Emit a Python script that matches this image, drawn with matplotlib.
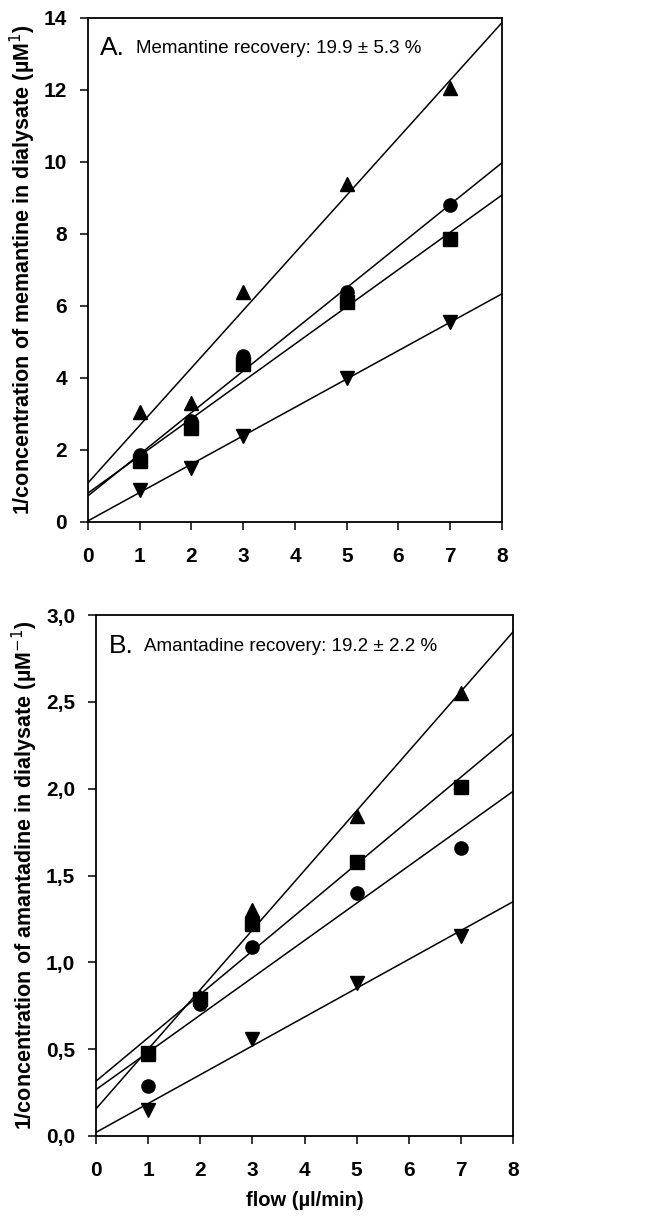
import numpy as np
import matplotlib
matplotlib.use("Agg")
import matplotlib.pyplot as plt

plt.rcParams['font.family'] = ['Liberation Sans', 'DejaVu Sans']

# flow rates (ul/min)
flow = [1, 2, 3, 5, 7]
flow_b_down = [1, 3, 5, 7]

# Panel A: memantine, 1/concentration (uM^-1)
mem_up = [3.05, 3.3, 6.4, 9.4, 12.05]
mem_circle = [1.85, 2.8, 4.6, 6.4, 8.8]
mem_square = [1.7, 2.6, 4.4, 6.1, 7.85]
mem_down = [0.9, 1.5, 2.4, 4.0, 5.55]

# Panel B: amantadine
ama_up = [0.47, 0.8, 1.3, 1.84, 2.55]
ama_square = [0.48, 0.79, 1.22, 1.58, 2.01]
ama_circle = [0.29, 0.76, 1.09, 1.40, 1.66]
ama_down = [0.15, 0.56, 0.88, 1.15]

xticks = [0, 1, 2, 3, 4, 5, 6, 7, 8]
yticks_a = [0, 2, 4, 6, 8, 10, 12, 14]
yticks_b = [0.0, 0.5, 1.0, 1.5, 2.0, 2.5, 3.0]
yticklabels_b = ['0,0', '0,5', '1,0', '1,5', '2,0', '2,5', '3,0']

fig = plt.figure(figsize=(6.54, 12.19), dpi=100)
axA = fig.add_axes([88/654, 1-522/1219, 414/654, 504/1219])
axB = fig.add_axes([96/654, 1-1136/1219, 417/654, 521/1219])

xfit = np.array([0, 8])


def panel(ax, series, ymax, yticks, ylabels, ylabel, letter, title):
    for xs, ys, m in series:
        ax.plot(xs, ys, linestyle='none', marker=m, color='black', ms=9.5, zorder=3)
        # least-squares line through each series
        k, b = np.polyfit(xs, ys, 1)
        ax.plot(xfit, k * xfit + b, color='black', lw=1.1)
    ax.set_xlim(0, 8)
    ax.set_ylim(0, ymax)
    ax.set_xticks(xticks)
    ax.set_yticks(yticks)
    ax.set_yticklabels(ylabels)
    ax.tick_params(direction='out', length=6, width=1.1, labelsize=15, top=False, right=False)
    ax.tick_params(axis='x', pad=12)
    ax.tick_params(axis='y', pad=9)
    for lab in ax.get_xticklabels() + ax.get_yticklabels():
        lab.set_fontweight('bold')
    for s in ax.spines.values():
        s.set_linewidth(1.3)
    ax.set_ylabel(ylabel, fontsize=15.5, fontweight='bold', labelpad=4)
    ax.text(0.03, 0.94, letter, transform=ax.transAxes, fontsize=19,
            va='center', ha='left')
    ax.text(0.115, 0.94, title, transform=ax.transAxes, fontsize=13.5,
            va='center', ha='left')


panel(axA,
      [(flow, mem_up, '^'), (flow, mem_circle, 'o'), (flow, mem_square, 's'), (flow, mem_down, 'v')],
      14, yticks_a, [str(v) for v in yticks_a],
      '1/concentration of memantine in dialysate (µM$^{1}$)',
      'A.', 'Memantine recovery: 19.9 ± 5.3 %')

panel(axB,
      [(flow, ama_up, '^'), (flow, ama_square, 's'), (flow, ama_circle, 'o'), (flow_b_down, ama_down, 'v')],
      3.0, yticks_b, yticklabels_b,
      '1/concentration of amantadine in dialysate (µM$^{-1}$)',
      'B.', 'Amantadine recovery: 19.2 ± 2.2 %')

axB.set_xlabel('flow (µl/min)', fontsize=14.5, fontweight='bold', labelpad=8)

fig.savefig('out.png', dpi=100)
